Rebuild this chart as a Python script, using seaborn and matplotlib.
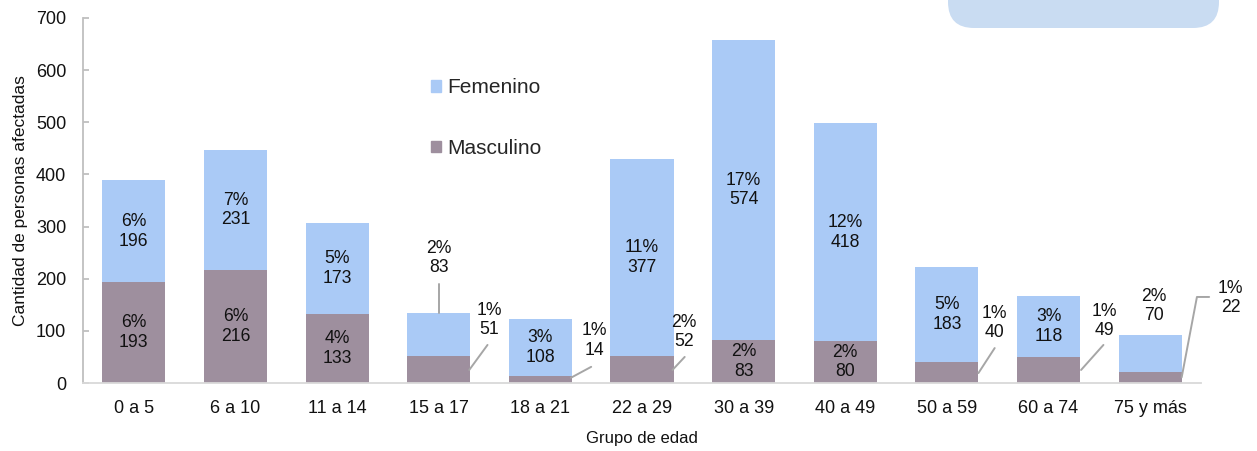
import pandas as pd
import matplotlib.pyplot as plt
import seaborn as sns
from matplotlib.patches import FancyBboxPatch, Patch
from matplotlib.transforms import IdentityTransform

grupos = ["0 a 5", "6 a 10", "11 a 14", "15 a 17", "18 a 21", "22 a 29",
          "30 a 39", "40 a 49", "50 a 59", "60 a 74", "75 y más"]
masculino = [193, 216, 133, 51, 14, 52, 83, 80, 40, 49, 22]
femenino = [196, 231, 173, 83, 108, 377, 574, 418, 183, 118, 70]
pct_masculino = [6, 6, 4, 1, 1, 2, 2, 2, 1, 1, 1]
pct_femenino = [6, 7, 5, 2, 3, 11, 17, 12, 5, 3, 2]

fem_color = "#AACAF6"
masc_color = "#9E8F9E"
line_color = "#A6A6A6"

# labels placed outside the bars: (text x, text y, leader line points)
outside = {
    ("F", 3): (3.0, 240, [(3.0, 190), (3.0, 134)]),
    ("M", 3): (3.5, 121, [(3.48, 73), (3.30, 25)]),
    ("M", 4): (4.53, 82, [(4.50, 31), (4.30, 10)]),
    ("M", 5): (5.41, 98, [(5.42, 50), (5.30, 25)]),
    ("M", 8): (8.47, 115, [(8.47, 67), (8.31, 19)]),
    ("M", 9): (9.55, 119, [(9.54, 73), (9.32, 25)]),
    ("F", 10): (10.04, 148, []),
    ("M", 10): (10.79, 163, [(10.58, 165), (10.46, 165), (10.31, 11)]),
}

df = pd.DataFrame({"Grupo": grupos, "Masculino": masculino, "Femenino": femenino})
df["Total"] = df["Masculino"] + df["Femenino"]

sns.set_style("white")
plt.rcParams["font.family"] = ["Liberation Sans", "DejaVu Sans"]

fig = plt.figure(figsize=(12.57, 4.51), dpi=100)
ax = fig.add_axes([83 / 1257, (451 - 383) / 451, 1118 / 1257, 365 / 451])

sns.barplot(data=df, x="Grupo", y="Total", color=fem_color, saturation=1,
            width=0.62, linewidth=0, errorbar=None, ax=ax)
sns.barplot(data=df, x="Grupo", y="Masculino", color=masc_color, saturation=1,
            width=0.62, linewidth=0, errorbar=None, ax=ax)

ax.set_xlim(-0.5, 10.5)
ax.set_ylim(0, 700)
ax.set_yticks(range(0, 701, 100))

for i in range(len(grupos)):
    m, f = masculino[i], femenino[i]
    for key, val, pct, ymid in [("M", m, pct_masculino[i], m / 2),
                                ("F", f, pct_femenino[i], m + f / 2)]:
        txt = f"{pct}%\n{val}"
        if (key, i) in outside:
            tx, ty, pts = outside[(key, i)]
            ax.text(tx, ty, txt, ha="center", va="center", fontsize=12.7,
                    color="#111111", clip_on=False)
            if pts:
                ax.plot([p[0] for p in pts], [p[1] for p in pts],
                        color=line_color, lw=1.4, clip_on=False)
        else:
            ax.text(i, ymid, txt, ha="center", va="center", fontsize=12.7,
                    color="#111111")

for side in ["top", "right"]:
    ax.spines[side].set_visible(False)
ax.spines["left"].set_color("#BFBFBF")
ax.spines["bottom"].set_color("#D9D9D9")
ax.spines["left"].set_linewidth(1.3)
ax.spines["bottom"].set_linewidth(1.3)

ax.tick_params(axis="y", direction="in", length=4, width=1.3, color="#BFBFBF",
               labelsize=13, labelcolor="#111111", pad=12, left=True)
ax.tick_params(axis="x", length=0, labelsize=13, labelcolor="#111111", pad=12)

ax.set_xlabel("Grupo de edad", fontsize=12, color="#111111", labelpad=10)
ax.set_ylabel("Cantidad de personas afectadas", fontsize=12.5, color="#111111", labelpad=6)

handles = [Patch(color=fem_color), Patch(color=masc_color)]
ax.legend(handles, ["Femenino", "Masculino"], loc="upper left",
          bbox_to_anchor=(0.311, 0.835), frameon=False, fontsize=15,
          handlelength=0.5, handleheight=0.5, handletextpad=0.3,
          labelspacing=2.0, borderpad=0, borderaxespad=0)

box = FancyBboxPatch((948, 423), 271, 80, boxstyle="round,pad=0,rounding_size=26",
                     transform=IdentityTransform(), facecolor="#C9DCF2",
                     edgecolor="none")
fig.add_artist(box)

fig.savefig("out.png", dpi=100)
